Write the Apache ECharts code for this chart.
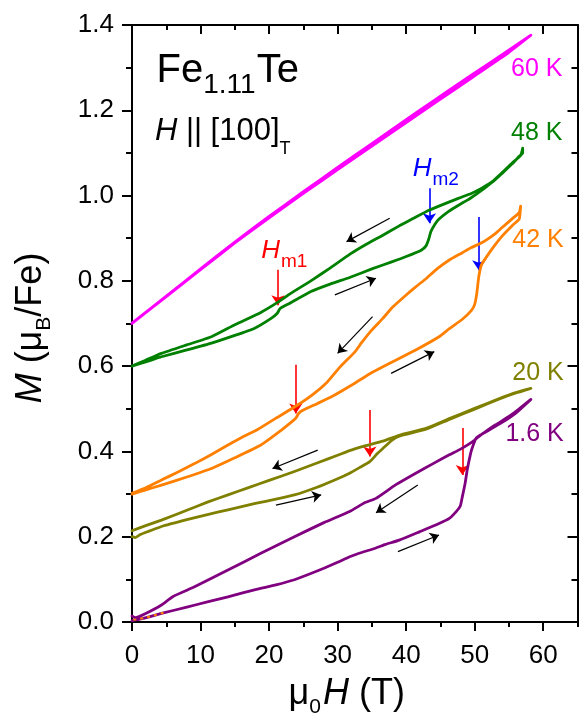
<!DOCTYPE html>
<html>
<head>
<meta charset="utf-8">
<script src="https://cdn.jsdelivr.net/npm/echarts@6/dist/echarts.min.js"></script>
<style>
  html, body { margin: 0; padding: 0; background: #fff; }
  #chart { width: 579px; height: 719px; }
</style>
</head>
<body>
<div id="chart"></div>
<script>
// Fe1.11Te magnetization loops M(H) for H || [100]T at several temperatures.

// Axis ticks
const fieldTicks = [0, 10, 20, 30, 40, 50, 60];          // μ0H (T)
const momentTicks = [0, 0.2, 0.4, 0.6, 0.8, 1.0, 1.2, 1.4]; // M (μB/Fe)

// 60 K
const h60Up = [0, 5, 10, 15, 20, 25, 30, 35, 40, 45, 50, 55, 58.2];
const m60Up = [0.700, 0.763, 0.826, 0.889, 0.948, 1.005, 1.061, 1.116, 1.171, 1.226, 1.281, 1.336, 1.376];
const h60Down = [58.2, 56, 52, 48, 44, 40, 35, 30, 25, 20, 15, 10, 5, 0];
const m60Down = [1.376, 1.352, 1.309, 1.266, 1.222, 1.178, 1.122, 1.066, 1.009, 0.951, 0.891, 0.828, 0.764, 0.701];

// 48 K
const h48Up = [0, 2, 4.3, 8, 11.6, 15, 17.9, 20.3, 21.2, 21.6, 23.1, 26.1, 29, 31.75, 35, 38, 40, 42.2, 42.9, 43.3, 43.6, 44.2, 44.8, 46.2, 47.7, 49, 50.2, 51.5, 53, 54, 55.5, 56.5, 57, 57];
const m48Up = [0.600, 0.610, 0.622, 0.638, 0.654, 0.672, 0.689, 0.712, 0.724, 0.735, 0.748, 0.775, 0.793, 0.808, 0.828, 0.845, 0.857, 0.872, 0.882, 0.898, 0.915, 0.933, 0.945, 0.963, 0.978, 0.990, 1.003, 1.018, 1.037, 1.052, 1.075, 1.092, 1.100, 1.111];
const h48Down = [56.7, 55.5, 54, 52.5, 51.1, 49.5, 47.7, 45.5, 43.4, 41, 39, 36.6, 34, 31.75, 29, 26.1, 23.1, 21.3, 18.8, 15, 11.6, 8, 4.3, 2, 0];
const m48Down = [1.094, 1.077, 1.054, 1.032, 1.018, 1.005, 0.994, 0.980, 0.966, 0.946, 0.929, 0.907, 0.884, 0.862, 0.831, 0.800, 0.770, 0.750, 0.726, 0.697, 0.669, 0.650, 0.630, 0.614, 0.600];

// 42 K
const h42Up = [0, 2, 4.3, 8, 11.6, 15, 18.8, 21.8, 23.2, 23.9, 24.3, 25, 27, 29.3, 32.5, 35, 37.6, 41.4, 44.8, 46.3, 48.2, 49.5, 50.0, 50.3, 50.6, 51.0, 52.1, 53, 54, 55.5, 56.5, 56.7];
const m42Up = [0.300, 0.310, 0.321, 0.340, 0.360, 0.385, 0.415, 0.450, 0.468, 0.478, 0.489, 0.497, 0.512, 0.530, 0.560, 0.585, 0.607, 0.638, 0.669, 0.688, 0.710, 0.730, 0.745, 0.770, 0.810, 0.838, 0.865, 0.885, 0.905, 0.930, 0.945, 0.975];
const h42Down = [56.5, 55.5, 54, 53.1, 52, 51.1, 49.5, 48.2, 46.3, 44.5, 42.9, 41.4, 40, 38, 36.6, 35, 33.5, 32.5, 30.3, 28.5, 26.5, 24, 21, 18.4, 16.4, 14, 11.6, 9.2, 6.5, 4.3, 2, 0];
const m42Down = [0.960, 0.946, 0.925, 0.912, 0.899, 0.890, 0.878, 0.866, 0.849, 0.828, 0.805, 0.786, 0.767, 0.738, 0.712, 0.685, 0.655, 0.633, 0.597, 0.563, 0.535, 0.507, 0.478, 0.452, 0.436, 0.415, 0.393, 0.372, 0.350, 0.333, 0.315, 0.302];

// 20 K
const h20Up = [0, 0.5, 1.2, 2.5, 4.3, 8, 11, 14, 18, 21, 23.7, 27, 30, 31.75, 33.2, 34.7, 35.8, 36.6, 38, 39, 42.9, 46.3, 50, 53.6, 56, 58.2];
const m20Up = [0.200, 0.198, 0.205, 0.213, 0.224, 0.240, 0.252, 0.263, 0.278, 0.288, 0.298, 0.316, 0.336, 0.349, 0.362, 0.376, 0.395, 0.407, 0.427, 0.436, 0.452, 0.475, 0.499, 0.523, 0.537, 0.548];
const h20Down = [58.2, 56, 53.6, 50, 46.3, 42.9, 39, 36.6, 34, 31.75, 30, 27, 23.7, 20, 17, 14, 11, 8, 4.3, 2, 0];
const m20Down = [0.548, 0.538, 0.524, 0.501, 0.477, 0.454, 0.438, 0.424, 0.413, 0.402, 0.391, 0.373, 0.353, 0.332, 0.315, 0.298, 0.281, 0.262, 0.239, 0.226, 0.214];

// 1.6 K
const h16Up = [0, 1, 2.5, 4.3, 8, 11, 14, 18, 21, 23.7, 26, 28, 30, 31.75, 33.5, 35.5, 37, 39, 42, 44.8, 46.3, 47.3, 47.9, 48.2, 48.6, 48.9, 49.4, 49.7, 50.2, 51, 53, 55, 56.5, 58.2];
const m16Up = [0.003, 0.006, 0.012, 0.020, 0.035, 0.047, 0.059, 0.076, 0.087, 0.099, 0.113, 0.126, 0.140, 0.153, 0.163, 0.173, 0.182, 0.192, 0.212, 0.231, 0.243, 0.259, 0.272, 0.294, 0.325, 0.356, 0.395, 0.411, 0.431, 0.440, 0.462, 0.482, 0.500, 0.522];
const h16Down = [58.2, 56, 54, 52.1, 51, 49.7, 48, 46.3, 44, 41.4, 38.5, 35.6, 34, 31.75, 28, 23.7, 18.8, 14, 9.2, 6, 4.3, 2, 0.5, 0];
const m16Down = [0.522, 0.490, 0.468, 0.450, 0.440, 0.423, 0.406, 0.392, 0.372, 0.349, 0.322, 0.290, 0.280, 0.259, 0.233, 0.200, 0.161, 0.122, 0.083, 0.060, 0.040, 0.020, 0.010, 0.014];

// short dashed trace near the origin
const hDash = [0.2, 1.7, 3.3, 4.7];
const mDash = [0.005, 0.009, 0.016, 0.022];

// sweep-direction arrows: [H from, M from, H to, M to]
const sweepArrows = [
  [37.6, 0.947, 31.3, 0.892],
  [29.6, 0.767, 35.6, 0.806],
  [35.1, 0.716, 30.0, 0.630],
  [37.8, 0.583, 44.1, 0.634],
  [27.1, 0.403, 20.5, 0.360],
  [21.0, 0.274, 27.6, 0.298],
  [41.7, 0.321, 35.6, 0.256],
  [38.8, 0.165, 44.8, 0.204]
];

// metamagnetic transition markers
const hm1Field = [21.3, 23.9, 34.7, 48.2];
const hm1Top = [0.826, 0.603, 0.497, 0.455];
const hm1Tip = [0.743, 0.489, 0.388, 0.345];
const hm2Field = [43.4, 50.6];
const hm2Top = [1.017, 0.950];
const hm2Tip = [0.935, 0.825];

// temperature labels (right edge, baseline) in data units
const tempNames = ['60 K', '48 K', '42 K', '20 K', '1.6 K'];
const tempLabelH = [62.8, 62.8, 63.0, 63.0, 63.0];
const tempLabelM = [1.275, 1.126, 0.876, 0.564, 0.419];

const COLORS = {
  '60 K': '#FF00FF', '48 K': '#008000', '42 K': '#FF8000', '20 K': '#808000', '1.6 K': '#800080'
};
const FONT = '"Liberation Sans", Arial, Helvetica, sans-serif';
const GRID = { left: 132, top: 25, width: 445.5, height: 597 };

function zip(h, m) { return h.map((x, i) => [x, m[i]]); }

const loops = [
  { name: '60 K', up: zip(h60Up, m60Up), down: zip(h60Down, m60Down) },
  { name: '48 K', up: zip(h48Up, m48Up), down: zip(h48Down, m48Down) },
  { name: '42 K', up: zip(h42Up, m42Up), down: zip(h42Down, m42Down) },
  { name: '20 K', up: zip(h20Up, m20Up), down: zip(h20Down, m20Down) },
  { name: '1.6 K', up: zip(h16Up, m16Up), down: zip(h16Down, m16Down) }
];

const series = loops.map(l => ({
  type: 'line',
  name: l.name,
  data: l.up.concat(l.down),
  showSymbol: false,
  symbol: 'none',
  smooth: 0.15,
  clip: false,
  silent: true,
  lineStyle: { color: COLORS[l.name], width: 2.8, join: 'round', cap: 'round' }
}));

series.push({
  type: 'line',
  name: 'trace',
  data: zip(hDash, mDash),
  showSymbol: false, symbol: 'none', clip: false, silent: true,
  lineStyle: { color: '#FF8000', width: 2, type: [3, 4] }
});

function arrowSeries(list, color, width, size) {
  return {
    type: 'lines',
    coordinateSystem: 'cartesian2d',
    xAxisIndex: 0, yAxisIndex: 0,
    symbol: ['none', 'arrow'],
    symbolSize: size,
    silent: true,
    lineStyle: { color: color, width: width, opacity: 1, curveness: 0 },
    data: list
  };
}
series.push(arrowSeries(sweepArrows.map(a => ({ coords: [[a[0], a[1]], [a[2], a[3]]] })), '#000', 1.2, 9));
series.push(arrowSeries(hm1Field.map((h, i) => ({ coords: [[h, hm1Top[i]], [h, hm1Tip[i]]] })), '#FF0000', 1.6, 10));
series.push(arrowSeries(hm2Field.map((h, i) => ({ coords: [[h, hm2Top[i]], [h, hm2Tip[i]]] })), '#0000FF', 1.6, 10));

const black = { color: '#000', width: 2 };
function xAxisDef(pos, interval, tickLen, inside, labels, custom) {
  const ax = {
    type: 'value', position: pos, min: 0, max: 65, interval: interval,
    axisLine: { show: true, onZero: false, lineStyle: black },
    axisTick: { show: true, inside: inside, length: tickLen, lineStyle: black },
    axisLabel: { show: labels, margin: 21, color: '#000', fontSize: 26, fontFamily: FONT,
      formatter: v => (v > 60 ? '' : String(v)) },
    splitLine: { show: false }
  };
  if (custom) {
    ax.axisTick.customValues = fieldTicks;
    ax.axisLabel.customValues = fieldTicks;
  }
  return ax;
}
function yAxisDef(pos, inside, labels) {
  return {
    type: 'value', position: pos, min: 0, max: 1.4, interval: 0.2,
    axisLine: { show: true, onZero: false, lineStyle: black },
    axisTick: { show: true, inside: inside, length: 10, lineStyle: black },
    minorTick: { show: true, splitNumber: 2, length: 6, lineStyle: black },
    axisLabel: { show: labels, margin: 18, color: '#000', fontSize: 26, fontFamily: FONT,
      showMinLabel: true, showMaxLabel: true, customValues: momentTicks,
      formatter: v => v.toFixed(1) },
    splitLine: { show: false },
    minorSplitLine: { show: false }
  };
}

const chart = echarts.init(document.getElementById('chart'), null, { renderer: 'canvas' });
chart.setOption({
  animation: false,
  backgroundColor: '#fff',
  grid: Object.assign({ containLabel: false, outerBoundsMode: 'none' }, GRID),
  xAxis: [
    xAxisDef('bottom', 10, 9, false, true, true),
    xAxisDef('bottom', 5, 5, false, false, false),
    xAxisDef('top', 10, 9, true, false, true),
    xAxisDef('top', 5, 5, true, false, false)
  ],
  yAxis: [
    yAxisDef('left', false, true),
    yAxisDef('right', true, false)
  ],
  series: series
});

// ---- text annotations (mixed fonts, sub/superscripts) ----
const MID = 0.35; // canvas 'middle' baseline offset, fraction of font size
const measureCtx = document.createElement('canvas').getContext('2d');
function fontOf(p) { return (p.italic ? 'italic' : 'normal') + ' normal ' + p.size + 'px ' + FONT; }
function widthOf(p) { measureCtx.font = fontOf(p); return measureCtx.measureText(p.t).width; }
function textRun(x, baseline, parts, color, anchor) {
  const total = parts.reduce((s, p) => s + widthOf(p) + (p.gap || 0), 0);
  let cx = anchor === 'right' ? x - total : anchor === 'center' ? x - total / 2 : x;
  return parts.map(p => {
    cx += (p.gap || 0);
    const el = {
      type: 'text', x: cx, y: baseline + (p.dy || 0) - MID * p.size, silent: true,
      style: {
        text: p.t, fill: p.color || color, fontSize: p.size, fontFamily: FONT,
        fontStyle: p.italic ? 'italic' : 'normal',
        align: 'left', verticalAlign: 'middle', textAlign: 'left', textVerticalAlign: 'middle'
      }
    };
    cx += widthOf(p);
    return el;
  });
}
const toPx = (h, m) => chart.convertToPixel({ seriesIndex: 0 }, [h, m]);

let elements = [];
tempNames.forEach((name, i) => {
  const p = toPx(tempLabelH[i], tempLabelM[i]);
  elements = elements.concat(textRun(p[0], p[1], [{ t: name, size: 25 }], COLORS[name], 'right'));
});

let p = toPx(18.85, 0.849);
elements = elements.concat(textRun(p[0], p[1], [
  { t: 'H', size: 26, italic: true }, { t: 'm1', size: 19, dy: 8, gap: 1 }], '#FF0000', 'left'));
p = toPx(40.95, 1.041);
elements = elements.concat(textRun(p[0], p[1], [
  { t: 'H', size: 26, italic: true }, { t: 'm2', size: 19, dy: 8, gap: 1 }], '#0000FF', 'left'));

p = toPx(3.58, 1.259);
elements = elements.concat(textRun(p[0], p[1], [
  { t: 'Fe', size: 40 }, { t: '1.11', size: 28, dy: 10 }, { t: 'Te', size: 40, gap: 1 }], '#000', 'left'));
p = toPx(3.34, 1.126);
elements = elements.concat(textRun(p[0], p[1], [
  { t: 'H', size: 31, italic: true }, { t: ' || [100]', size: 31 }, { t: 'T', size: 18, dy: 13 }], '#000', 'left'));

// axis titles
const gridBottom = GRID.top + GRID.height;
elements = elements.concat(textRun(GRID.left + GRID.width / 2 - 8, gridBottom + 85, [
  { t: 'μ', size: 36 }, { t: '0', size: 21, dy: 8 }, { t: 'H', size: 36, italic: true, gap: 2 }, { t: ' (T)', size: 36 }], '#000', 'center'));
elements.push({
  type: 'group', x: 43.3, y: GRID.top + GRID.height / 2 + 4.5, rotation: Math.PI / 2,
  children: textRun(0, 0, [
    { t: 'M', size: 36, italic: true }, { t: ' (μ', size: 36 }, { t: 'B', size: 21, dy: 8 }, { t: '/Fe)', size: 36 }], '#000', 'center')
});

chart.setOption({ graphic: { elements: elements } });
</script>
</body>
</html>
